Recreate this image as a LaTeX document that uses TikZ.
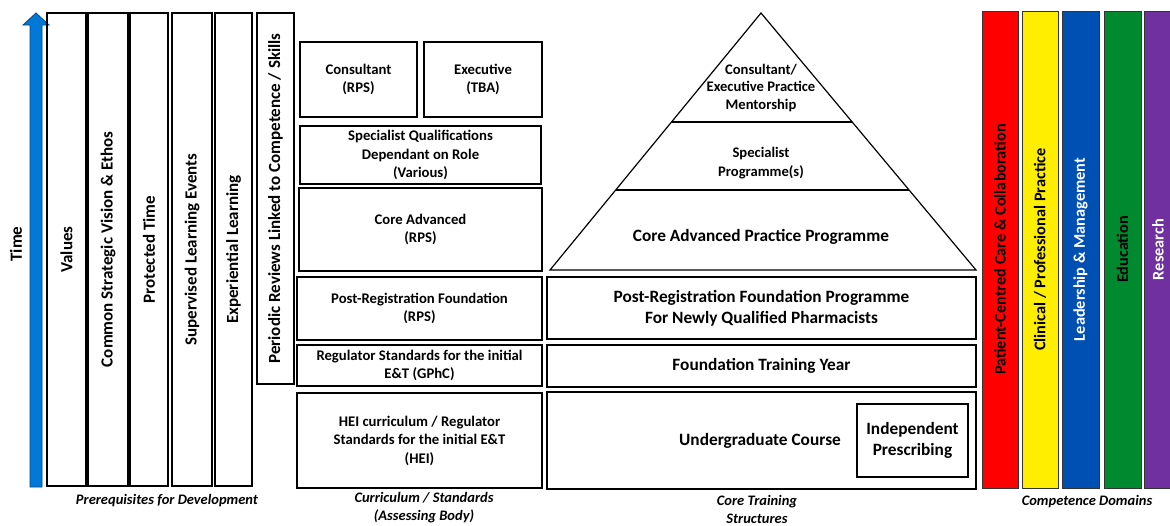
\documentclass[tikz,border=0pt]{standalone}
\usepackage{fontspec}
\setmainfont{Carlito}
\usetikzlibrary{calc}
\definecolor{timeblue}{HTML}{0078D7}
\definecolor{domred}{HTML}{FF0000}
\definecolor{domyellow}{HTML}{FFEE00}
\definecolor{domblue}{HTML}{0050B4}
\definecolor{domgreen}{HTML}{00892E}
\definecolor{dompurple}{HTML}{7030A0}
\begin{document}
\begin{tikzpicture}[x=1pt,y=-1pt]
        \tikzstyle{every node} = [align=center, font=\bfseries\fontsize{14.7}{18.5}\selectfont]
        \tikzstyle{column} = [draw, line width=1.2pt, rotate=90, minimum width=473pt, font=\bfseries\fontsize{17}{19}\selectfont]
        \tikzstyle{stdbox} = [draw, line width=1.2pt]
        \tikzstyle{trainbox} = [draw, line width=1.2pt, font=\bfseries\fontsize{17.3}{21}\selectfont]
        \tikzstyle{dombar} = [draw=black!80, line width=0.8pt, rotate=90, minimum width=477pt, font=\bfseries\fontsize{16.3}{19}\selectfont]
        \tikzstyle{caption} = [font=\bfseries\itshape\fontsize{14.5}{18}\selectfont]
        \useasboundingbox (0,0) rectangle (1170,525);
        % time arrow
        \draw[fill=timeblue, draw=timeblue!60!black, line width=0.8pt]
            (30,487) -- (42,487) -- (42,25) -- (49,25) -- (36,13) -- (23,25) -- (30,25) -- cycle;
        \node[rotate=90, font=\bfseries\fontsize{17}{19}\selectfont] (time) at (16,244) {Time};
        % prerequisites
        \foreach \name/\x/\w/\txt in {values/66.5/39/Values,
                strategic/108/40/{Common Strategic Vision \& Ethos},
                protected/149/38/Protected Time,
                supervised/192/40/Supervised Learning Events,
                experiential/233.5/37/Experiential Learning}
            \node[column, minimum height=\w pt] (\name) at (\x,249.5) {\txt};
        \node[column, minimum width=371pt, minimum height=37pt] (periodic) at (275.5,198.5)
            {Periodic Reviews Linked to Competence / Skills};
        \node[caption] (prereq) at (167,501) {Prerequisites for Development};
        % curriculum / standards
        \node[stdbox, minimum width=117pt, minimum height=75pt] (cons) at (358.5,79.5) {Consultant\\(RPS)};
        \node[stdbox, minimum width=118pt, minimum height=75pt] (exec) at (483,79.5) {Executive\\(TBA)};
        \node[stdbox, minimum width=241pt, minimum height=58pt] (spec) at (420.5,155)
            {Specialist Qualifications\\Dependant on Role\\(Various)};
        \node[stdbox, minimum width=243pt, minimum height=83pt] (coreadv) at (420.5,229.5) {Core Advanced\\(RPS)};
        \node[stdbox, minimum width=245pt, minimum height=63pt] (postreg) at (419.5,308.5)
            {Post-Registration Foundation\\(RPS)};
        \node[stdbox, minimum width=245pt, minimum height=41pt] (regstd) at (419.5,365.5)
            {Regulator Standards for the initial\\E\&T (GPhC)};
        \node[stdbox, minimum width=245pt, minimum height=95pt] (hei) at (419.5,440.5)
            {HEI curriculum / Regulator\\Standards for the initial E\&T\\(HEI)};
        \node[caption] (currlabel) at (424,508) {Curriculum / Standards\\(Assessing Body)};
        % pyramid
        \coordinate (apex) at (761,13);
        \coordinate (pl) at (550,270);
        \coordinate (pr) at (976,270);
        \draw[line width=1.2pt] (apex) -- (pl) -- (pr) -- cycle;
        \draw[line width=1.2pt] ($(apex)!0.424!(pl)$) -- ($(apex)!0.424!(pr)$);
        \draw[line width=1.2pt] ($(apex)!0.689!(pl)$) -- ($(apex)!0.689!(pr)$);
        \node[font=\bfseries\fontsize{14.6}{17.5}\selectfont] (mentor) at (761,88) {Consultant/\\Executive Practice\\Mentorship};
        \node[font=\bfseries\fontsize{14.6}{19}\selectfont] (specprog) at (761,163) {Specialist\\Programme(s)};
        \node[font=\bfseries\fontsize{17.3}{21}\selectfont] (coreprog) at (761,237) {Core Advanced Practice Programme};
        % core training
        \node[trainbox, minimum width=429pt, minimum height=62pt] (prog) at (761.5,308)
            {Post-Registration Foundation Programme\\For Newly Qualified Pharmacists};
        \node[trainbox, minimum width=429pt, minimum height=42pt] (fty) at (761.5,366) {Foundation Training Year};
        \node[trainbox, minimum width=429pt, minimum height=97pt] (ug) at (761.5,440.5) {};
        \node[font=\bfseries\fontsize{17.3}{21}\selectfont] (ugtext) at (760,441) {Undergraduate Course};
        \node[trainbox, minimum width=111pt, minimum height=73pt] (ip) at (912.5,440.5) {Independent\\Prescribing};
        \node[caption] (trainlabel) at (757,509.5) {Core Training\\Structures};
        % competence domains
        \foreach \name/\x/\w/\col/\tcol/\txt in {care/1000/36/domred/black/{Patient-Centred Care \& Collaboration},
                clinical/1040/36/domyellow/black/{Clinical / Professional Practice},
                leader/1080.5/37/domblue/white/{Leadership \& Management},
                educ/1122.5/37/domgreen/black/Education,
                research/1158/28/dompurple/white/Research}
            \node[dombar, fill=\col, text=\tcol, minimum height=\w pt] (\name) at (\x,249.5) {\txt};
        \node[caption] (domlabel) at (1087,502) {Competence Domains};
\end{tikzpicture}
\end{document}
